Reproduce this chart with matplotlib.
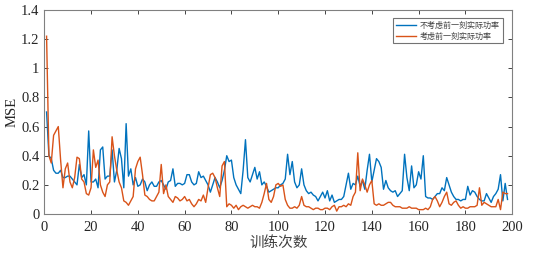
import matplotlib
matplotlib.use("Agg")
import matplotlib.pyplot as plt
import numpy as np

plt.rcParams['font.family'] = ['Liberation Serif', 'Noto Sans CJK SC']

blue = [0.70, 0.40, 0.38, 0.30, 0.28, 0.28, 0.30, 0.25, 0.25, 0.26,
        0.26, 0.24, 0.22, 0.20, 0.34, 0.25, 0.27, 0.20, 0.57, 0.22,
        0.22, 0.24, 0.18, 0.44, 0.46, 0.24, 0.26, 0.26, 0.44, 0.22,
        0.30, 0.45, 0.38, 0.18, 0.62, 0.26, 0.31, 0.20, 0.25, 0.19,
        0.20, 0.24, 0.22, 0.16, 0.20, 0.22, 0.19, 0.19, 0.22, 0.23,
        0.20, 0.17, 0.22, 0.23, 0.31, 0.19, 0.21, 0.21, 0.20, 0.21,
        0.27, 0.27, 0.22, 0.20, 0.21, 0.29, 0.25, 0.26, 0.23, 0.20,
        0.15, 0.20, 0.25, 0.22, 0.18, 0.23, 0.30, 0.40, 0.36, 0.37,
        0.25, 0.20, 0.17, 0.14, 0.30, 0.51, 0.25, 0.22, 0.27, 0.32,
        0.24, 0.29, 0.20, 0.22, 0.19, 0.15, 0.16, 0.17, 0.18, 0.18,
        0.20, 0.21, 0.24, 0.41, 0.27, 0.36, 0.22, 0.18, 0.20, 0.31,
        0.20, 0.16, 0.14, 0.15, 0.13, 0.12, 0.09, 0.12, 0.15, 0.11,
        0.16, 0.09, 0.13, 0.08, 0.09, 0.10, 0.10, 0.12, 0.20, 0.28,
        0.17, 0.21, 0.20, 0.26, 0.19, 0.23, 0.17, 0.30, 0.41, 0.22,
        0.30, 0.38, 0.36, 0.32, 0.17, 0.23, 0.18, 0.16, 0.15, 0.16,
        0.12, 0.14, 0.16, 0.41, 0.25, 0.16, 0.33, 0.18, 0.20, 0.29,
        0.24, 0.40, 0.12, 0.11, 0.11, 0.10, 0.12, 0.14, 0.14, 0.18,
        0.16, 0.25, 0.20, 0.15, 0.12, 0.10, 0.10, 0.09, 0.10, 0.10,
        0.19, 0.13, 0.16, 0.15, 0.12, 0.10, 0.09, 0.09, 0.14, 0.11,
        0.08, 0.12, 0.14, 0.17, 0.27, 0.09, 0.21, 0.10]

orange = [1.22, 0.40, 0.35, 0.54, 0.57, 0.60, 0.37, 0.18, 0.31, 0.35,
          0.22, 0.18, 0.25, 0.39, 0.38, 0.24, 0.22, 0.14, 0.13, 0.18,
          0.44, 0.32, 0.37, 0.20, 0.15, 0.12, 0.20, 0.22, 0.53, 0.40,
          0.30, 0.22, 0.18, 0.09, 0.08, 0.06, 0.09, 0.12, 0.31, 0.36,
          0.39, 0.27, 0.13, 0.12, 0.10, 0.09, 0.09, 0.12, 0.15, 0.34,
          0.14, 0.20, 0.12, 0.10, 0.08, 0.12, 0.11, 0.09, 0.10, 0.12,
          0.09, 0.10, 0.07, 0.05, 0.07, 0.10, 0.09, 0.13, 0.08, 0.18,
          0.27, 0.28, 0.25, 0.18, 0.12, 0.33, 0.36, 0.05, 0.07, 0.06,
          0.04, 0.06, 0.03, 0.05, 0.06, 0.05, 0.04, 0.05, 0.06, 0.05,
          0.05, 0.04, 0.08, 0.14, 0.21, 0.10, 0.08, 0.12, 0.20, 0.21,
          0.19, 0.20, 0.10, 0.06, 0.04, 0.04, 0.05, 0.04, 0.06, 0.12,
          0.06, 0.05, 0.05, 0.04, 0.03, 0.04, 0.04, 0.03, 0.03, 0.04,
          0.04, 0.03, 0.05, 0.06, 0.02, 0.05, 0.05, 0.06, 0.05, 0.07,
          0.06, 0.12, 0.15, 0.42, 0.16, 0.24, 0.20, 0.15, 0.20, 0.23,
          0.07, 0.06, 0.07, 0.06, 0.06, 0.07, 0.08, 0.08, 0.06, 0.05,
          0.05, 0.05, 0.04, 0.04, 0.04, 0.05, 0.04, 0.04, 0.04, 0.03,
          0.03, 0.03, 0.04, 0.03, 0.05, 0.10, 0.12, 0.09, 0.05, 0.08,
          0.12, 0.15, 0.07, 0.06, 0.08, 0.09, 0.06, 0.04, 0.05, 0.04,
          0.04, 0.05, 0.05, 0.05, 0.06, 0.18, 0.06, 0.08, 0.07, 0.06,
          0.05, 0.05, 0.05, 0.10, 0.03, 0.15, 0.14, 0.14]

labels = ['不考虑前一刻实际功率', '考虑前一刻实际功率']
xticks = [0, 20, 40, 60, 80, 100, 120, 140, 160, 180, 200]
yticks = [0, 0.2, 0.4, 0.6, 0.8, 1.0, 1.2, 1.4]
ytick_labels = ['0', '0.2', '0.4', '0.6', '0.8', '1', '1.2', '1.4']

x_blue = np.arange(1, len(blue) + 1)
x_orange = np.arange(1, len(orange) + 1)

fig = plt.figure(figsize=(5.33, 2.56), dpi=100)
ax = fig.add_axes([0.083, 0.164, 0.878, 0.797])
ax.plot(x_blue, blue, color='#0072BD', lw=1.0, label=labels[0])
ax.plot(x_orange, orange, color='#D95319', lw=1.0, label=labels[1])

ax.set_xlim(0, 200)
ax.set_ylim(0, 1.4)
ax.set_xticks(xticks)
ax.set_yticks(yticks)
ax.set_yticklabels(ytick_labels)
ax.tick_params(direction='in', top=True, right=True, length=3, width=0.6,
               labelsize=10.5, colors='#262626')
ax.tick_params(axis='x', pad=5)
ax.tick_params(axis='y', pad=3.5)
for s in ax.spines.values():
    s.set_color('#808080')
    s.set_linewidth(0.8)

ax.set_xlabel('训练次数', fontsize=10.5, color='#404040', labelpad=1,
              family=['Noto Sans CJK SC'])
ax.set_ylabel('MSE', fontsize=10.5, color='#262626', labelpad=2)

leg = ax.legend(loc='upper right', frameon=True, fancybox=False,
                handlelength=2.5, borderpad=0.35, labelspacing=0.2,
                handletextpad=0.5, borderaxespad=0.0,
                bbox_to_anchor=(0.98, 0.96),
                prop={'family': ['Noto Sans CJK SC'], 'size': 5.8})
leg.get_frame().set_edgecolor('#505050')
leg.get_frame().set_linewidth(0.8)
for t in leg.get_texts():
    t.set_color('#404040')

fig.savefig('out.png', dpi=100)
